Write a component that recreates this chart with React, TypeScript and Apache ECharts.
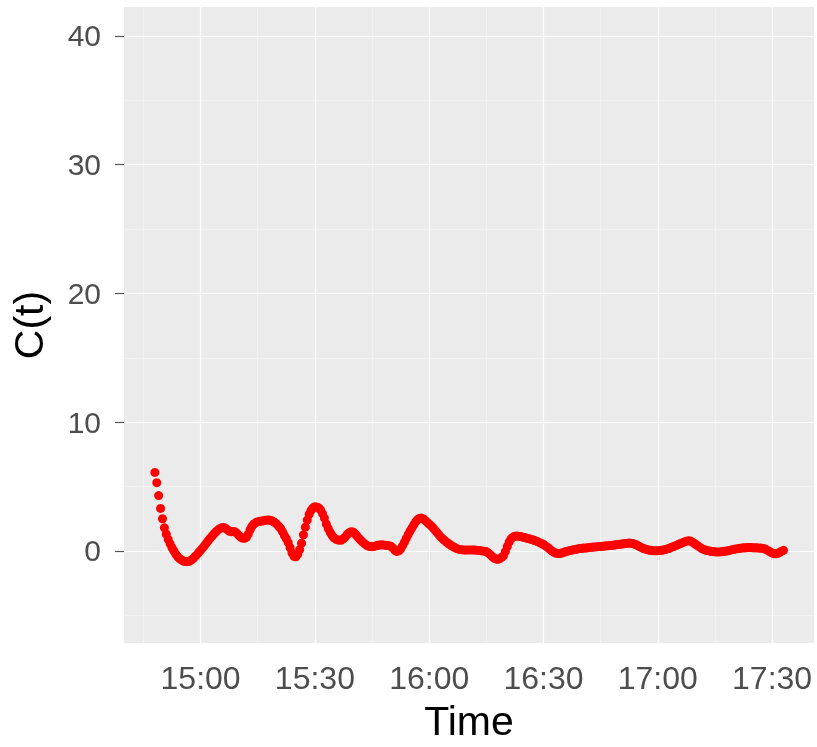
import React, { useEffect, useRef } from "react";
import * as echarts from "echarts";

// Time of first sample: 14:48 (minutes after midnight), samples every 30 s
const startMinute = 888;
const stepMinutes = 0.5;

// C(t) values, split by half hour
const seg1448 = [6.1, 5.3, 4.3, 3.3, 2.5, 1.8, 1.3, 0.9, 0.55, 0.25, 0.0, -0.25, -0.45, -0.6, -0.7, -0.78, -0.82, -0.83, -0.8, -0.72, -0.6, -0.45, -0.3, -0.12];
const seg1500 = [0.05, 0.22, 0.4, 0.6, 0.8, 0.98, 1.15, 1.32, 1.48, 1.62,
  1.73, 1.8, 1.82, 1.78, 1.65, 1.55, 1.5, 1.52, 1.5, 1.38,
  1.22, 1.08, 1.0, 0.98, 1.05, 1.3, 1.65, 1.92, 2.1, 2.2,
  2.27, 2.3, 2.32, 2.35, 2.38, 2.4, 2.4, 2.37, 2.3, 2.2,
  2.08, 1.92, 1.75, 1.5, 1.2, 0.95, 0.65, 0.25, -0.15, -0.42,
  -0.45, -0.25, 0.1, 0.6, 1.25, 1.85, 2.4, 2.85, 3.15, 3.35];
const seg1530 = [3.44, 3.42, 3.35, 3.18, 2.9, 2.55, 2.1, 1.75, 1.45, 1.2,
  1.02, 0.92, 0.86, 0.84, 0.85, 0.95, 1.1, 1.28, 1.42, 1.5,
  1.48, 1.35, 1.18, 1.0, 0.85, 0.7, 0.57, 0.46, 0.38, 0.34,
  0.33, 0.35, 0.4, 0.44, 0.47, 0.48, 0.47, 0.45, 0.42, 0.4,
  0.36, 0.22, 0.05, -0.04, 0.0, 0.15, 0.4, 0.68, 0.98, 1.28,
  1.55, 1.8, 2.05, 2.28, 2.45, 2.54, 2.55, 2.48, 2.36, 2.22];
const seg1600 = [2.08, 1.95, 1.8, 1.62, 1.45, 1.27, 1.1, 0.95, 0.82, 0.7,
  0.58, 0.48, 0.38, 0.3, 0.22, 0.16, 0.12, 0.1, 0.08, 0.07,
  0.08, 0.08, 0.08, 0.08, 0.07, 0.06, 0.04, 0.02, 0.0, -0.02,
  -0.05, -0.15, -0.28, -0.42, -0.55, -0.62, -0.65, -0.6, -0.5, -0.38,
  -0.05, 0.35, 0.7, 0.95, 1.08, 1.14, 1.16, 1.15, 1.12, 1.08,
  1.04, 1.0, 0.96, 0.92, 0.88, 0.83, 0.78, 0.72, 0.65, 0.58];
const seg1630 = [0.5, 0.4, 0.3, 0.18, 0.05, -0.06, -0.14, -0.18, -0.2, -0.18,
  -0.14, -0.09, -0.04, 0.0, 0.04, 0.07, 0.1, 0.13, 0.16, 0.19,
  0.21, 0.22, 0.23, 0.24, 0.26, 0.28, 0.3, 0.31, 0.32, 0.34,
  0.35, 0.36, 0.38, 0.4, 0.41, 0.42, 0.44, 0.46, 0.48, 0.5,
  0.52, 0.54, 0.56, 0.58, 0.6, 0.61, 0.6, 0.57, 0.52, 0.46,
  0.38, 0.3, 0.23, 0.17, 0.12, 0.08, 0.05, 0.03, 0.02, 0.02];
const seg1700 = [0.02, 0.03, 0.05, 0.08, 0.12, 0.16, 0.21, 0.27, 0.33, 0.39,
  0.45, 0.52, 0.58, 0.64, 0.7, 0.76, 0.8, 0.78, 0.7, 0.6,
  0.5, 0.4, 0.3, 0.2, 0.12, 0.07, 0.03, 0.0, -0.03, -0.05,
  -0.07, -0.08, -0.08, -0.07, -0.05, -0.03, -0.01, 0.02, 0.06, 0.1,
  0.13, 0.16, 0.18, 0.2, 0.22, 0.24, 0.25, 0.26, 0.26, 0.26,
  0.25, 0.25, 0.24, 0.23, 0.22, 0.2, 0.17, 0.1, 0.02, -0.08,
  -0.15, -0.2, -0.22, -0.18, -0.1, -0.02, 0.05];

// Axis ticks
const xTicks = [900, 930, 960, 990, 1020, 1050]; // 15:00 ... 17:30
const xMinor = [885, 915, 945, 975, 1005, 1035];
const yTicks = [0, 10, 20, 30, 40];
const yMinor = [-5, 5, 15, 25, 35];

const fmtTime = (m: number) => {
  const h = Math.floor(m / 60);
  const mm = Math.round(m - h * 60);
  return `${h}:${mm < 10 ? "0" + mm : mm}`;
};

export default function App() {
  const ref = useRef<HTMLDivElement>(null);
  useEffect(() => {
    if (!ref.current) return;
    const chart = echarts.init(ref.current, null, { renderer: "svg" });
    const values = [...seg1448, ...seg1500, ...seg1530, ...seg1600, ...seg1630, ...seg1700];
    const points = values.map((v, i) => [startMinute + i * stepMinutes, v]);
    const majorStyle = { color: "#FFFFFF", width: 1.2, type: "solid" as const };
    const minorStyle = { color: "#F4F4F4", width: 0.8, type: "solid" as const };
    const gridLines = [
      ...xMinor.map((x) => ({ xAxis: x, lineStyle: minorStyle })),
      ...yMinor.map((y) => ({ yAxis: y, lineStyle: minorStyle })),
      ...xTicks.map((x) => ({ xAxis: x, lineStyle: majorStyle })),
      ...yTicks.map((y) => ({ yAxis: y, lineStyle: majorStyle })),
    ];
    chart.setOption({
      animation: false,
      grid: {
        left: 124,
        top: 7,
        width: 690,
        height: 636,
        show: true,
        backgroundColor: "#EBEBEB",
        borderWidth: 0,
        outerBoundsMode: "none",
      },
      xAxis: {
        type: "value",
        min: 879.9,
        max: 1061.0,
        name: "Time",
        nameLocation: "middle",
        nameGap: 57,
        nameTextStyle: { fontFamily: "Liberation Sans", fontSize: 41, color: "#000000" },
        axisLine: { show: false },
        axisTick: { show: true, length: 9, customValues: xTicks, lineStyle: { color: "#555555", width: 1.2 } },
        axisLabel: {
          fontFamily: "Liberation Sans",
          fontSize: 32,
          color: "#4D4D4D",
          margin: 19,
          overflow: "none",
          hideOverlap: false,
          customValues: xTicks,
          formatter: (v: number) => fmtTime(v),
        },
        splitLine: { show: false },
      },
      yAxis: {
        type: "value",
        min: -7.15,
        max: 42.25,
        name: "C(t)",
        nameLocation: "middle",
        nameGap: 75,
        nameRotate: 90,
        nameTextStyle: { fontFamily: "Liberation Sans", fontSize: 41, color: "#000000" },
        axisLine: { show: false },
        axisTick: { show: true, length: 9, customValues: yTicks, lineStyle: { color: "#555555", width: 1.2 } },
        axisLabel: { fontFamily: "Liberation Sans", fontSize: 30, color: "#4D4D4D", margin: 23, customValues: yTicks },
        splitLine: { show: false },
      },
      series: [
        {
          type: "scatter",
          data: points,
          symbol: "circle",
          symbolSize: 9,
          itemStyle: { color: "#FF0000", opacity: 1 },
          silent: true,
          z: 3,
          markLine: {
            silent: true,
            symbol: ["none", "none"],
            label: { show: false },
            z: 1,
            animation: false,
            emphasis: { disabled: true },
            data: gridLines,
          },
        },
      ],
    });
    return () => chart.dispose();
  }, []);
  return (
    <div
      ref={ref}
      style={{ position: "fixed", left: 0, top: 0, width: 817, height: 747, overflow: "visible" }}
    />
  );
}
